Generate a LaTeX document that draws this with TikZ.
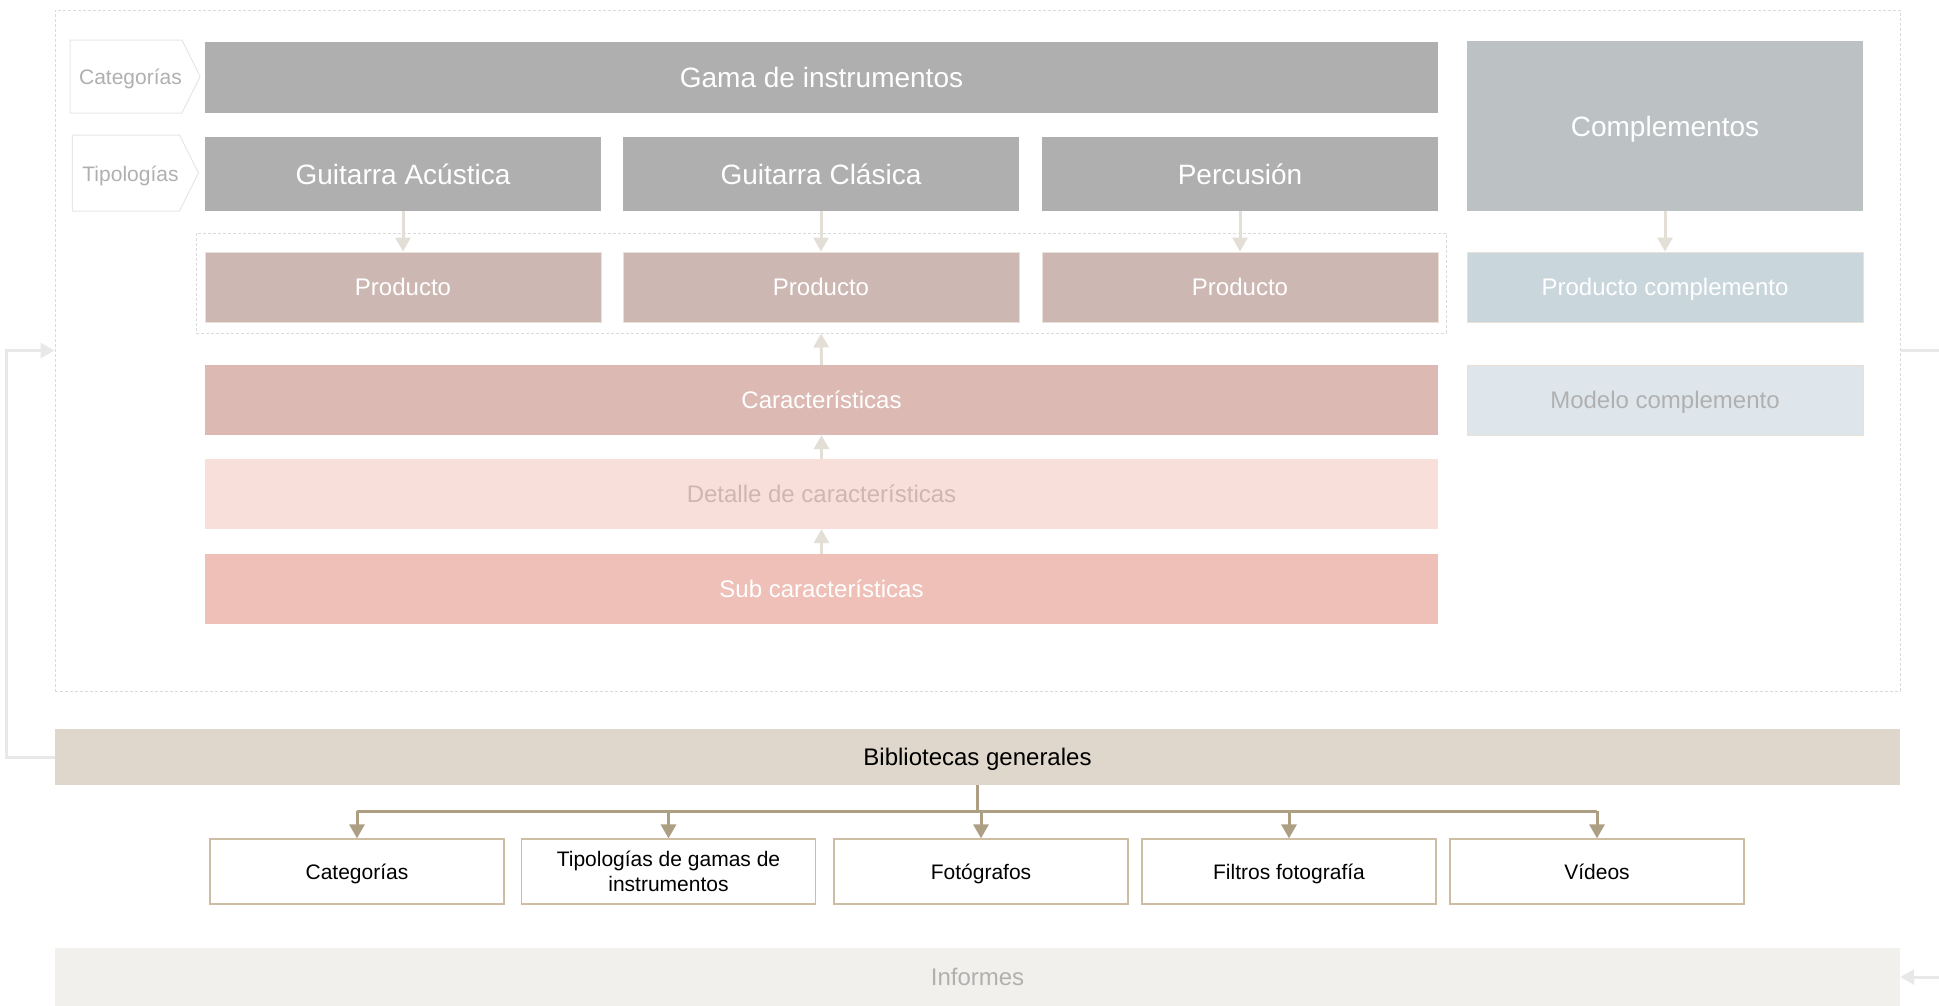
\documentclass[tikz,border=0pt]{standalone}
\usepackage{fontspec}
\setmainfont{Liberation Sans}
\usetikzlibrary{arrows.meta,shapes.symbols}
\definecolor{topgray}{HTML}{AFAFAF}
\definecolor{compgray}{HTML}{BCC1C4}
\definecolor{prodfill}{HTML}{CDB7B2}
\definecolor{prodedge}{HTML}{E9E1D7}
\definecolor{pcfill}{HTML}{C9D6DB}
\definecolor{mcfill}{HTML}{DFE6EB}
\definecolor{carfill}{HTML}{DCBAB3}
\definecolor{detfill}{HTML}{F9DFDA}
\definecolor{dettext}{HTML}{CFB6B1}
\definecolor{subfill}{HTML}{EFC0B8}
\definecolor{bibfill}{HTML}{DFD7CB}
\definecolor{treecol}{HTML}{AD9F83}
\definecolor{leafedge}{HTML}{CDBEA3}
\definecolor{infofill}{HTML}{F2F0EC}
\definecolor{lighttext}{HTML}{B0B0B0}
\definecolor{arrowcol}{HTML}{E4DFD6}
\definecolor{loopcol}{HTML}{E8E8E8}
\definecolor{dashcol}{HTML}{DADADA}
\definecolor{tagedge}{HTML}{E3E8E5}
\tikzset{
  blk/.style={rectangle, inner sep=0pt, align=center, text depth=0pt},
  big/.style={blk, fill=topgray, text=white, text height=20.2pt, font=\fontsize{28}{33}\selectfont},
  med/.style={blk, text=white, text height=17.3pt, font=\fontsize{24}{28}\selectfont},
  tag/.style={signal, signal to=east, signal pointer angle=127, draw=tagedge, line width=1pt,
    fill=white, text=lighttext, inner sep=0pt, text height=16pt, text depth=0pt,
    execute at begin node={\hspace*{9pt}},
    font=\fontsize{21}{25}\selectfont},
  leaf/.style={rectangle, inner sep=0pt, align=center, draw=leafedge, line width=1.2pt, fill=white, text=black,
    text height=15.2pt, text depth=0pt,
    minimum width=294pt, minimum height=65pt, font=\fontsize{21}{25}\selectfont},
  dframe/.style={rectangle, draw=dashcol, line width=1pt, dash pattern=on 3pt off 2pt, inner sep=0pt},
  larrow/.style={draw=arrowcol, line width=3pt, -{Triangle[width=15pt,length=14pt]}},
  loopl/.style={draw=loopcol, line width=3pt},
  loopa/.style={loopl, -{Triangle[width=15pt,length=14pt]}},
  treel/.style={draw=treecol, line width=3pt},
  treea/.style={treel, -{Triangle[width=15pt,length=14pt]}}
}
\begin{document}
\begin{tikzpicture}[x=1pt,y=-1pt]
\useasboundingbox (0,0) rectangle (1939,1005);
\fill[white] (0,0) rectangle (1939,1005);
% frames
\node[dframe, minimum width=1845pt, minimum height=681pt] (frame) at (977.5,350.5) {};
\node[dframe, minimum width=1250pt, minimum height=100pt] (pframe) at (821,283) {};
% tags
\node[tag, minimum width=126pt, minimum height=73pt] (tcat) at (126,76.5) {Categorías};
\node[tag, minimum width=126pt, minimum height=76pt] (ttip) at (126,173) {Tipologías};
% top blocks
\node[big, minimum width=1233pt, minimum height=71pt] (gama) at (821.5,77.5) {Gama de instrumentos};
\node[big, minimum width=396pt, minimum height=74pt] (ga) at (403,174) {Guitarra Acústica};
\node[big, minimum width=396pt, minimum height=74pt] (gc) at (821,174) {Guitarra Clásica};
\node[big, minimum width=396pt, minimum height=74pt] (perc) at (1240,174) {Percusión};
\node[big, fill=compgray, minimum width=396pt, minimum height=170pt] (comp) at (1665,126) {Complementos};
% products
\node[med, fill=prodfill, draw=prodedge, line width=1pt, minimum width=396pt, minimum height=70pt] (p1) at (403,287) {Producto};
\node[med, fill=prodfill, draw=prodedge, line width=1pt, minimum width=396pt, minimum height=70pt] (p2) at (821,287) {Producto};
\node[med, fill=prodfill, draw=prodedge, line width=1pt, minimum width=396pt, minimum height=70pt] (p3) at (1240,287) {Producto};
\node[med, fill=pcfill, draw=prodedge, line width=1pt, minimum width=396pt, minimum height=70pt] (pc) at (1665,287) {Producto complemento};
\node[med, fill=mcfill, draw=prodedge, line width=1pt, text=lighttext, minimum width=396pt, minimum height=70pt] (mc) at (1665,400) {Modelo complemento};
% characteristics
\node[med, fill=carfill, minimum width=1233pt, minimum height=70pt] (car) at (821.5,400) {Características};
\node[med, fill=detfill, text=dettext, minimum width=1233pt, minimum height=70pt] (det) at (821.5,494) {Detalle de características};
\node[med, fill=subfill, minimum width=1233pt, minimum height=70pt] (sub) at (821.5,589) {Sub características};
% arrows
\draw[larrow] (ga.south) -- (p1.north);
\draw[larrow] (gc.south) -- (p2.north);
\draw[larrow] (perc.south) -- (p3.north);
\draw[larrow] (comp.south) -- (pc.north);
\draw[larrow] (sub.north) -- (det.south);
\draw[larrow] (det.north) -- (car.south);
\draw[larrow] (car.north) -- (pframe.south);
% libraries
\node[med, fill=bibfill, text=black, minimum width=1845pt, minimum height=56pt] (bib) at (977.5,757) {Bibliotecas generales};
\node[leaf] (b1) at (357,871.5) {Categorías};
\node[leaf, text height=40.2pt] (b2) at (668.5,871.5) {Tipologías de gamas de\\instrumentos};
\node[leaf] (b3) at (981,871.5) {Fotógrafos};
\node[leaf] (b4) at (1289,871.5) {Filtros fotografía};
\node[leaf] (b5) at (1597,871.5) {Vídeos};
\coordinate (bus) at (977.5,811);
\draw[treel] (bib.south) -- (bus);
\draw[treel] (b1.north |- bus) -- (b5.north |- bus);
\foreach \b in {b1,b2,b3,b4,b5} \draw[treea] (\b.north |- bus) -- (\b.north);
% reports
\node[med, fill=infofill, text=lighttext, minimum width=1845pt, minimum height=58pt] (inf) at (977.5,977) {Informes};
% loops
\draw[loopa] (bib.west) -- ++(-48,0) |- (frame.west);
\coordinate (rout) at (1939,350.5);
\draw[loopl] (frame.east) -- (rout);
\coordinate (rin) at (1939,977);
\draw[loopa] (rin) -- (inf.east);
\end{tikzpicture}
\end{document}
